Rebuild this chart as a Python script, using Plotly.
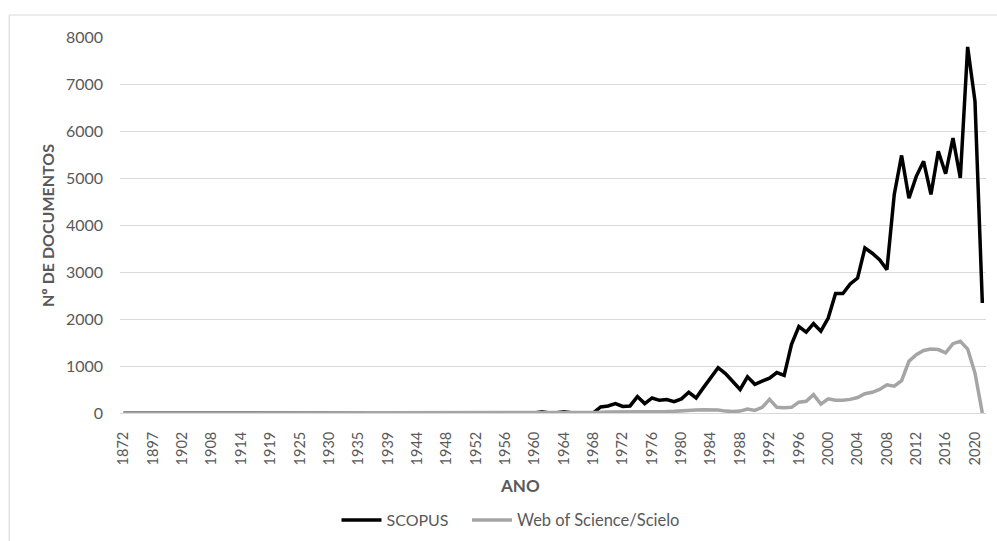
import plotly.graph_objects as go

early_years = [1872, 1880, 1889, 1893, 1897, 1898, 1899, 1901, 1902, 1904, 1905, 1907,
               1908, 1909, 1911, 1913, 1914, 1915, 1916, 1918, 1919, 1920, 1922, 1924,
               1925, 1926, 1928, 1929, 1930, 1931, 1933, 1934, 1935, 1936, 1937, 1938,
               1939, 1940, 1942, 1943, 1944, 1945, 1946, 1947, 1948, 1949, 1950, 1951,
               1952, 1953, 1954, 1955, 1956, 1957, 1958, 1959]
years = [str(y) for y in early_years + list(range(1960, 2022))]

scopus_early = [1, 0, 0, 1, 0, 1, 0, 0, 1, 0, 0, 1, 0, 1, 0, 0, 1, 0, 0, 1, 0, 1, 0, 0,
                1, 0, 1, 0, 1, 0, 0, 1, 0, 1, 0, 1, 0, 0, 1, 0, 1, 0, 1, 0, 1, 0, 1, 1,
                2, 1, 2, 1, 2, 1, 2, 2]
scopus_late = [2, 25, 3, 4, 25, 5, 8, 10, 5, 130, 150, 200, 140, 150, 350, 200, 320, 270,
               285, 240, 300, 440, 320, 540, 750, 965, 840, 660, 500, 770, 610, 680, 740,
               860, 800, 1460, 1840, 1720, 1900, 1740, 2020, 2540, 2540, 2745, 2870, 3510,
               3400, 3260, 3050, 4650, 5480, 4570, 5035, 5355, 4650, 5570, 5090, 5850,
               5000, 7790, 6630, 2340]
scopus = scopus_early + scopus_late

wos_early = [0, 1, 0, 0, 1, 0, 0, 1, 0, 0, 1, 0, 0, 0, 1, 0, 0, 1, 0, 0, 1, 0, 0, 1,
             0, 0, 1, 0, 0, 1, 0, 0, 1, 0, 0, 1, 0, 1, 0, 0, 0, 1, 0, 0, 1, 0, 0, 1,
             0, 1, 0, 1, 0, 1, 0, 1]
wos_late = [0, 0, 0, 0, 0, 2, 5, 10, 10, 15, 20, 20, 15, 20, 25, 25, 30, 30, 30, 35, 50,
            60, 65, 70, 70, 65, 40, 30, 40, 85, 55, 120, 290, 120, 110, 120, 230, 250, 390,
            190, 300, 270, 270, 290, 330, 410, 440, 500, 600, 570, 690, 1100, 1240, 1330,
            1360, 1350, 1280, 1475, 1525, 1360, 850, 0]
wos = wos_early + wos_late

tick_labels = years[::4]
y_ticks = [0, 1000, 2000, 3000, 4000, 5000, 6000, 7000, 8000]

FONT = "Lato, 'Open Sans', sans-serif"
GREY_TXT = "#595959"

fig = go.Figure()
fig.add_trace(go.Scatter(x=years, y=scopus, mode="lines", name="SCOPUS",
                         line=dict(color="#000000", width=3.5), legend="legend"))
fig.add_trace(go.Scatter(x=years, y=wos, mode="lines", name="Web of Science/Scielo",
                         line=dict(color="#a5a5a5", width=3.5), legend="legend2"))

fig.update_layout(
    width=997, height=541,
    margin=dict(l=120, r=11, t=37, b=128, autoexpand=False),
    paper_bgcolor="white", plot_bgcolor="white",
    font=dict(family=FONT, color=GREY_TXT, size=16),
    showlegend=True,
    legend=dict(orientation="h", x=0.25, xanchor="left", y=-0.285, yanchor="middle",
                font=dict(size=16, color=GREY_TXT), itemwidth=40, bgcolor="rgba(0,0,0,0)"),
    legend2=dict(orientation="h", x=0.4007, xanchor="left", y=-0.285, yanchor="middle",
                 font=dict(size=16.5, color=GREY_TXT), itemwidth=40, bgcolor="rgba(0,0,0,0)"),
    xaxis=dict(type="category", tickmode="array", tickvals=tick_labels, ticktext=tick_labels,
               tickangle=-90, tickfont=dict(size=14.5, color=GREY_TXT), showgrid=False,
               showline=True, linecolor="#d9d9d9", ticks="", range=[-0.5, len(years) - 0.5],
               ticklabelstandoff=12),
    yaxis=dict(range=[0, 8000], tickvals=y_ticks, showgrid=True, gridcolor="#d9d9d9",
               gridwidth=1, zeroline=False, ticks="", tickfont=dict(size=16, color=GREY_TXT),
               ticklabelstandoff=16),
    annotations=[
        dict(text="<b>Nº DE DOCUMENTOS</b>", xref="paper", yref="paper", x=-0.0843, y=0.5,
             xanchor="center", yanchor="middle", textangle=-90, showarrow=False,
             font=dict(size=16, color=GREY_TXT)),
        dict(text="<b>ANO</b>", xref="paper", yref="paper", x=0.462, y=-0.194,
             xanchor="center", yanchor="middle", showarrow=False,
             font=dict(size=17, color=GREY_TXT)),
    ],
    shapes=[dict(type="rect", xref="paper", yref="paper", x0=-0.128, y0=-0.4, x1=1.05, y1=1.0585,
                 line=dict(color="#d9d9d9", width=1), fillcolor="rgba(0,0,0,0)", layer="below")],
)

fig.write_html("out.html", config={"displayModeBar": False},
               post_script="document.body.style.margin='0';document.body.style.padding='0';")
